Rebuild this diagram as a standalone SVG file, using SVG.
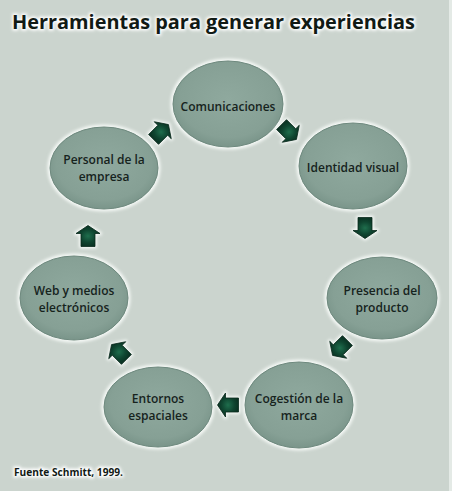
<svg xmlns="http://www.w3.org/2000/svg" width="452" height="491" viewBox="0 0 452 491">
  <defs>
    <filter id="glow" x="-20%" y="-20%" width="140%" height="140%">
      <feGaussianBlur stdDeviation="1.8"/>
    </filter>
    <filter id="tglow" x="-5%" y="-30%" width="110%" height="160%">
      <feGaussianBlur stdDeviation="1.6"/>
    </filter>
    <radialGradient id="nodeFill" cx="50%" cy="45%" r="55%">
      <stop offset="0" stop-color="#8fa99e"/>
      <stop offset="0.8" stop-color="#86a095"/>
      <stop offset="1" stop-color="#7a958a"/>
    </radialGradient>
    <radialGradient id="arrowFill" cx="50%" cy="50%" r="50%">
      <stop offset="0" stop-color="#1f6e4d"/>
      <stop offset="0.6" stop-color="#0f4530"/>
      <stop offset="1" stop-color="#0a3323"/>
    </radialGradient>
    <path id="arr" d="M-10.5,-7 H2.5 V-12 L10.5,0 L2.5,12 V7 H-10.5 Z"/>
  </defs>
  <style>
    .halo { fill: none; stroke: #f4f8f5; stroke-width: 5; filter: url(#glow); }
    .node { fill: url(#nodeFill); stroke: #6e897e; stroke-width: 1; }
    .lbl { font-family: "Open Sans", "Liberation Sans", sans-serif; font-weight: 600; font-size: 12px; fill: #16231d; text-anchor: middle; }
    .ahalo { fill: #f4f8f5; stroke: #f4f8f5; stroke-width: 4; stroke-linejoin: round; filter: url(#glow); }
    .arrow { fill: url(#arrowFill); stroke: #08281b; stroke-width: 0.8; stroke-linejoin: miter; }
    .title { font-family: "Open Sans", "Liberation Sans", sans-serif; font-weight: 700; font-size: 20px; fill: #111a15; }
    .titleglow { font-family: "Open Sans", "Liberation Sans", sans-serif; font-weight: 700; font-size: 20px; fill: #ffffff; stroke: #ffffff; stroke-width: 3; filter: url(#tglow); }
    .src { font-family: "Open Sans", "Liberation Sans", sans-serif; font-weight: 700; font-size: 10px; fill: #111a15; }
    .srcglow { font-family: "Open Sans", "Liberation Sans", sans-serif; font-weight: 700; font-size: 10px; fill: #ffffff; stroke: #ffffff; stroke-width: 3; filter: url(#tglow); }
  </style>

  <rect width="452" height="491" fill="#cbd4ce"/>
  <rect x="449" y="0" width="3" height="491" fill="#e4eae6"/>

  <g id="title">
    <text class="titleglow" x="12" y="29" textLength="403" lengthAdjust="spacingAndGlyphs">Herramientas para generar experiencias</text>
    <text class="title" x="12" y="29" textLength="403" lengthAdjust="spacingAndGlyphs">Herramientas para generar experiencias</text>
  </g>

  <g id="node-comunicaciones">
    <ellipse class="halo" cx="228" cy="104" rx="55" ry="43"/>
    <ellipse class="node" cx="228" cy="104" rx="55" ry="43"/>
    <text class="lbl" x="228" y="111">Comunicaciones</text>
  </g>
  <g id="node-identidad">
    <ellipse class="halo" cx="353" cy="166" rx="54" ry="43"/>
    <ellipse class="node" cx="353" cy="166" rx="54" ry="43"/>
    <text class="lbl" x="353" y="172">Identidad visual</text>
  </g>
  <g id="node-presencia">
    <ellipse class="halo" cx="382" cy="298" rx="55" ry="41"/>
    <ellipse class="node" cx="382" cy="298" rx="55" ry="41"/>
    <text class="lbl" x="382" y="295">Presencia del</text>
    <text class="lbl" x="382" y="312">producto</text>
  </g>
  <g id="node-cogestion">
    <ellipse class="halo" cx="299" cy="405" rx="54" ry="43"/>
    <ellipse class="node" cx="299" cy="405" rx="54" ry="43"/>
    <text class="lbl" x="299" y="403">Cogestión de la</text>
    <text class="lbl" x="299" y="420">marca</text>
  </g>
  <g id="node-entornos">
    <ellipse class="halo" cx="158" cy="407" rx="54" ry="40"/>
    <ellipse class="node" cx="158" cy="407" rx="54" ry="40"/>
    <text class="lbl" x="158" y="403">Entornos</text>
    <text class="lbl" x="158" y="420">espaciales</text>
  </g>
  <g id="node-web">
    <ellipse class="halo" cx="74" cy="298" rx="54" ry="42"/>
    <ellipse class="node" cx="74" cy="298" rx="54" ry="42"/>
    <text class="lbl" x="74" y="295">Web y medios</text>
    <text class="lbl" x="74" y="312">electrónicos</text>
  </g>
  <g id="node-personal">
    <ellipse class="halo" cx="104" cy="168" rx="54" ry="41"/>
    <ellipse class="node" cx="104" cy="168" rx="54" ry="41"/>
    <text class="lbl" x="104" y="164">Personal de la</text>
    <text class="lbl" x="104" y="181">empresa</text>
  </g>

  <g id="connectors">
    <g transform="translate(161,132) rotate(-45)"><use href="#arr" class="ahalo"/><use href="#arr" class="arrow"/></g>
    <g transform="translate(289,132) rotate(45)"><use href="#arr" class="ahalo"/><use href="#arr" class="arrow"/></g>
    <g transform="translate(365,228) rotate(90)"><use href="#arr" class="ahalo"/><use href="#arr" class="arrow"/></g>
    <g transform="translate(340,348) rotate(135)"><use href="#arr" class="ahalo"/><use href="#arr" class="arrow"/></g>
    <g transform="translate(228,405) rotate(180)"><use href="#arr" class="ahalo"/><use href="#arr" class="arrow"/></g>
    <g transform="translate(119,352) rotate(-135)"><use href="#arr" class="ahalo"/><use href="#arr" class="arrow"/></g>
    <g transform="translate(88,236) rotate(-90)"><use href="#arr" class="ahalo"/><use href="#arr" class="arrow"/></g>
  </g>

  <g id="source">
    <text class="srcglow" x="14" y="476" textLength="109" lengthAdjust="spacingAndGlyphs">Fuente Schmitt, 1999.</text>
    <text class="src" x="14" y="476" textLength="109" lengthAdjust="spacingAndGlyphs">Fuente Schmitt, 1999.</text>
  </g>
</svg>
